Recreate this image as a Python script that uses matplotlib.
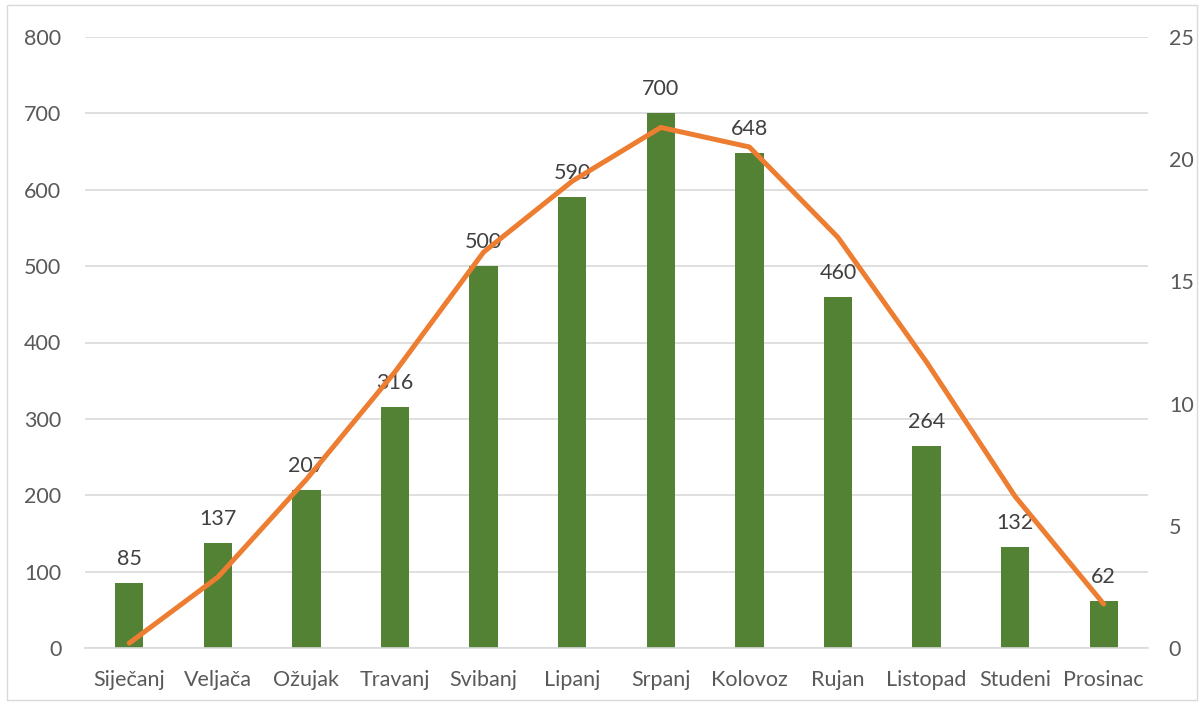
import matplotlib
matplotlib.use("Agg")
import matplotlib.pyplot as plt
from matplotlib.patches import Rectangle

months = ["Siječanj", "Veljača", "Ožujak", "Travanj", "Svibanj", "Lipanj",
          "Srpanj", "Kolovoz", "Rujan", "Listopad", "Studeni", "Prosinac"]
bar_values = [85, 137, 207, 316, 500, 590, 700, 648, 460, 264, 132, 62]
line_values = [0.2, 2.9, 6.9, 11.3, 16.2, 19.1, 21.3, 20.5, 16.8, 11.7, 6.2, 1.8]
left_ticks = [0, 100, 200, 300, 400, 500, 600, 700, 800]
right_ticks = [0, 5, 10, 15, 20, 25]

plt.rcParams['font.family'] = ['Lato', 'DejaVu Sans']

W, H = 1204, 705
fig = plt.figure(figsize=(W / 100, H / 100), dpi=100)
fig.patch.set_facecolor("white")
fig.patches.append(Rectangle((7 / W, 1 - 700 / H), (1197 - 7) / W, (700 - 5) / H,
                             transform=fig.transFigure, fill=False,
                             edgecolor="#D9D9D9", linewidth=1))

FS = 15.5
ax = fig.add_axes([85 / W, 1 - 648 / H, (1148 - 85) / W, (648 - 37) / H])
x = list(range(len(months)))
ax.bar(x, bar_values, width=0.32, color="#548235", zorder=2)
ax.set_xlim(-0.5, len(months) - 0.5)
ax.set_ylim(0, 800)
ax.set_yticks(left_ticks)
ax.grid(axis="y", color="#D9D9D9", linewidth=1.2, zorder=0)
ax.set_axisbelow(True)
for s in ["top", "right", "left"]:
    ax.spines[s].set_visible(False)
ax.spines["bottom"].set_color("#D9D9D9")
ax.spines["bottom"].set_linewidth(1.2)
ax.tick_params(axis="both", length=0, labelsize=FS, colors="#595959")
ax.tick_params(axis="y", pad=17)
ax.tick_params(axis="x", pad=16)
ax.set_xticks(x)
ax.set_xticklabels(months)
for xi, v in zip(x, bar_values):
    ax.annotate(str(v), (xi, v), xytext=(0, 10), textcoords="offset points",
                ha="center", va="bottom", fontsize=FS, color="#404040", zorder=5)

ax2 = ax.twinx()
ax2.plot(x, line_values, color="#ED7D31", linewidth=3.6, solid_capstyle="round",
         solid_joinstyle="round", zorder=3)
ax2.set_ylim(0, 25)
ax2.set_yticks(right_ticks)
for s in ["top", "right", "left", "bottom"]:
    ax2.spines[s].set_visible(False)
ax2.tick_params(axis="y", length=0, labelsize=FS, colors="#595959", pad=15)

fig.savefig("out.png", dpi=100)
